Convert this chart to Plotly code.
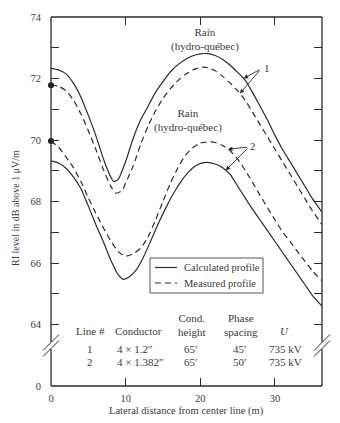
import numpy as np
import plotly.graph_objects as go

# Lateral distance from center line (m) and RI level (dB above 1 uV/m)
x_calc1 = [0, 1, 2, 3, 4, 5, 6, 7, 8, 8.4, 9, 10, 11, 12, 13, 14, 15, 16, 17, 18, 19, 20, 20.8,
           22, 23, 24, 25, 26, 27, 28, 29, 30, 31, 32, 33, 34, 35, 36.3]
y_calc1 = [72.33, 72.28, 72.15, 71.85, 71.4, 70.8, 70.15, 69.4, 68.8, 68.65, 68.72, 69.3, 70.05,
           70.65, 71.1, 71.55, 71.9, 72.22, 72.45, 72.62, 72.74, 72.8, 72.82,
           72.75, 72.62, 72.43, 72.2, 71.95, 71.55, 71.1, 70.65, 70.15, 69.7, 69.3, 68.9, 68.5, 68.1, 67.65]

x_meas1 = [0, 1, 2, 3, 4, 5, 6, 7, 8, 8.7, 9.5, 10, 11, 12, 13, 14, 15, 16, 17, 18, 19, 20.3,
           21, 22, 23, 24, 25, 26, 27, 28, 29, 30, 31, 32, 33, 34, 35, 36.3]
y_meas1 = [71.78, 71.75, 71.6, 71.3, 70.85, 70.3, 69.7, 69.05, 68.5, 68.27, 68.35, 68.6, 69.15,
           69.85, 70.45, 70.95, 71.35, 71.67, 71.93, 72.13, 72.28, 72.37,
           72.35, 72.25, 72.07, 71.85, 71.6, 71.3, 70.9, 70.5, 70.1, 69.7, 69.3, 68.9, 68.5, 68.1, 67.7, 67.25]

x_calc2 = [0, 1, 2, 3, 4, 5, 6, 7, 8, 9, 9.7, 10.5, 11.5, 12.5, 13.5, 14.5, 15.5, 16.5, 17.5,
           18.5, 19.5, 20.8, 22, 23, 24, 25, 26, 27, 28, 29, 30, 31, 32, 33, 34, 35, 36.3]
y_calc2 = [69.32, 69.25, 69.08, 68.8, 68.42, 67.85, 67.25, 66.7, 66.1, 65.62, 65.47, 65.55, 65.8,
           66.25, 66.8, 67.35, 67.85, 68.3, 68.68, 68.98, 69.18, 69.27, 69.22, 69.1, 68.88,
           68.5, 68.12, 67.75, 67.4, 67.05, 66.7, 66.35, 66.0, 65.65, 65.3, 64.95, 64.6]

x_meas2 = [0, 1, 2, 3, 4, 5, 6, 7, 8, 9, 9.9, 11, 12, 13, 14, 15, 16, 17, 18, 19, 20, 21.2,
           22, 23, 24, 25, 26, 27, 28, 29, 30, 31, 32, 33, 34, 35, 36.3]
y_meas2 = [69.97, 69.77, 69.45, 69.1, 68.65, 68.12, 67.62, 67.15, 66.72, 66.38, 66.22, 66.3,
           66.48, 66.85, 67.4, 68.0, 68.6, 69.1, 69.5, 69.75, 69.9, 69.94,
           69.92, 69.82, 69.65, 69.38, 69.02, 68.62, 68.2, 67.8, 67.4, 67.02, 66.7, 66.38,
           66.06, 65.75, 65.42]

# Broken y axis: the bottom of the axis is labelled 0, the rest runs 64..74
y_tickvals = [62, 64, 66, 68, 70, 72, 74]
y_ticktext = ["0", "64", "66", "68", "70", "72", "74"]
y_minorvals = [65, 67, 69, 71, 73]
x_tickvals = [0, 10, 20, 30]

# Line data table
table_head = ["Line #", "Conductor", "Cond.<br>height", "Phase<br>spacing", "<i>U</i>"]
row_line = ["1", "2"]
row_conductor = ["4 × 1.2″", "4 × 1.382″"]
row_height = ["65′", "65′"]
row_spacing = ["45′", "50′"]
row_voltage = ["735 kV", "735 kV"]

legend_names = ["Calculated profile", "Measured profile"]

FONT = "Liberation Serif"
INK = "#2b2b2b"
TXT = "#3a3a3a"
DASH = "6px,4px"

# plot-area pixel box, used for decorations placed in paper coordinates
L, R, T, B = 51, 322, 17, 386


def pxx(p):
    return (p - L) / (R - L)


def pxy(p):
    return (B - p) / (B - T)


fig = go.Figure()

line_style = dict(color=INK, width=1.2, shape="spline", smoothing=0.6)
dash_style = dict(color=INK, width=1.2, shape="spline", smoothing=0.6, dash=DASH)

fig.add_trace(go.Scatter(x=x_calc1, y=y_calc1, mode="lines", line=line_style, name=legend_names[0]))
fig.add_trace(go.Scatter(x=x_meas1, y=y_meas1, mode="lines", line=dash_style, name=legend_names[1]))
fig.add_trace(go.Scatter(x=x_calc2, y=y_calc2, mode="lines", line=line_style, name=legend_names[0]))
fig.add_trace(go.Scatter(x=x_meas2, y=y_meas2, mode="lines", line=dash_style, name=legend_names[1]))
# measured values on the center line
fig.add_trace(go.Scatter(x=[x_meas1[0], x_meas2[0]], y=[y_meas1[0], y_meas2[0]],
                         mode="markers", marker=dict(color="#1a1a1a", size=6),
                         cliponaxis=False))

shapes = []
frame = dict(type="line", xref="paper", yref="paper", line=dict(color=INK, width=1.3))
gap_lo, gap_hi = pxy(349), pxy(342)
shapes += [
    dict(frame, x0=0, x1=1, y0=1, y1=1),
    dict(frame, x0=0, x1=1, y0=0, y1=0),
    dict(frame, x0=0, x1=0, y0=0, y1=gap_lo),
    dict(frame, x0=0, x1=0, y0=gap_hi, y1=1),
    dict(frame, x0=1, x1=1, y0=0, y1=gap_lo),
    dict(frame, x0=1, x1=1, y0=gap_hi, y1=1),
]
# axis break marks on both sides
brk = dict(type="line", xref="paper", yref="paper", line=dict(color=INK, width=1))
for cx in (L, R):
    for off in (-3, 3):
        shapes.append(dict(brk, x0=pxx(cx - 8), y0=pxy(345.5 + off + 8),
                           x1=pxx(cx + 8), y1=pxy(345.5 + off - 8)))

# key box with line samples
shapes.append(dict(type="rect", xref="paper", yref="paper", x0=pxx(150), x1=pxx(263),
                   y0=pxy(293), y1=pxy(258), line=dict(color="#555", width=1),
                   fillcolor="white", layer="above"))
shapes.append(dict(type="line", xref="paper", yref="paper", x0=pxx(155), x1=pxx(177),
                   y0=pxy(267.5), y1=pxy(267.5), line=dict(color=INK, width=1.2), layer="above"))
shapes.append(dict(type="line", xref="paper", yref="paper", x0=pxx(155), x1=pxx(177),
                   y0=pxy(283), y1=pxy(283), line=dict(color=INK, width=1.2, dash=DASH),
                   layer="above"))

ann = []
tfont = dict(family=FONT, size=11, color=TXT)

for name, yy in zip(legend_names, (267.5, 283)):
    ann.append(dict(xref="paper", yref="paper", x=pxx(182), y=pxy(yy), text=name,
                    showarrow=False, font=dict(family=FONT, size=10.5, color=TXT),
                    xanchor="left", yanchor="middle"))

# profile labels
ann.append(dict(x=20.6, y=73.28, text="Rain<br>(hydro-québec)", showarrow=False,
                font=tfont, xanchor="center", yanchor="middle"))
ann.append(dict(x=18.4, y=70.62, text="Rain<br>(hydro-québec)", showarrow=False,
                font=tfont, xanchor="center", yanchor="middle"))

# line number callouts with arrows
arrow = dict(showarrow=True, arrowhead=2, arrowsize=1, arrowwidth=0.9, arrowcolor=INK,
             axref="x", ayref="y", text="", standoff=0)
tail1 = (28.1, 72.31)
ann.append(dict(arrow, x=25.8, y=float(np.interp(25.8, x_calc1, y_calc1)), ax=tail1[0], ay=tail1[1]))
ann.append(dict(arrow, x=25.3, y=float(np.interp(25.3, x_meas1, y_meas1)), ax=tail1[0], ay=tail1[1]))
ann.append(dict(x=28.9, y=72.33, text="1", showarrow=False, font=tfont))
tail2 = (26.5, 69.77)
ann.append(dict(arrow, x=23.7, y=float(np.interp(23.7, x_meas2, y_meas2)), ax=tail2[0], ay=tail2[1]))
ann.append(dict(arrow, x=23.4, y=float(np.interp(23.4, x_calc2, y_calc2)), ax=tail2[0], ay=tail2[1]))
ann.append(dict(x=27.1, y=69.8, text="2", showarrow=False, font=tfont))

# table of line data
head_x = [5.35, 8.3, 18.9, 25.5, 31.3]
head_anchor = ["center", "left", "center", "center", "center"]
head_y = [63.78, 63.78, 64.0, 64.0, 63.78]
for txt, hx, ha, hy in zip(table_head, head_x, head_anchor, head_y):
    ann.append(dict(x=hx, y=hy, text=txt, showarrow=False, font=tfont, xanchor=ha,
                    yanchor="middle"))
row_y = [63.2, 62.79]
for i in range(2):
    cells = [row_line[i], row_conductor[i], row_height[i], row_spacing[i], row_voltage[i]]
    cx = [5.2, 8.6, 18.7, 25.2, 31.4]
    ca = ["center", "left", "center", "center", "center"]
    for txt, x, a in zip(cells, cx, ca):
        ann.append(dict(x=x, y=row_y[i], text=txt, showarrow=False, font=tfont, xanchor=a,
                        yanchor="middle"))

# axis titles
ann.append(dict(xref="paper", yref="paper", x=0.5, y=pxy(411), text="Lateral distance from center line (m)",
                showarrow=False, font=dict(family=FONT, size=10.5, color=TXT),
                xanchor="center", yanchor="middle"))
ann.append(dict(xref="paper", yref="paper", x=pxx(15), y=pxy(208),
                text="RI level in dB above 1 μV/m", textangle=-90, showarrow=False,
                font=dict(family=FONT, size=10, color=TXT), xanchor="center", yanchor="middle"))

fig.update_layout(
    width=340, height=423,
    margin=dict(l=L, r=340 - R, t=T, b=423 - B),
    paper_bgcolor="white", plot_bgcolor="white",
    font=dict(family=FONT, size=10.5, color=TXT),
    shapes=shapes, annotations=ann,
    showlegend=False,
    xaxis=dict(range=[0, 36.3], tickvals=x_tickvals, ticks="inside", ticklen=8,
               tickcolor=INK, tickwidth=1.2, mirror="ticks", showline=False, showgrid=False,
               zeroline=False, ticklabelstandoff=4,
               tickfont=dict(family=FONT, size=10.5, color=TXT)),
    yaxis=dict(range=[62, 74], tickvals=y_tickvals, ticktext=y_ticktext, ticks="inside",
               ticklen=8, tickcolor=INK, tickwidth=1.2, mirror="ticks", showline=False,
               showgrid=False, zeroline=False, ticklabelstandoff=9,
               tickfont=dict(family=FONT, size=10.5, color=TXT),
               minor=dict(tickvals=y_minorvals, ticks="inside", ticklen=8, tickcolor=INK,
                          tickwidth=1.2, showgrid=False)),
)

fig.write_html("out.html")
